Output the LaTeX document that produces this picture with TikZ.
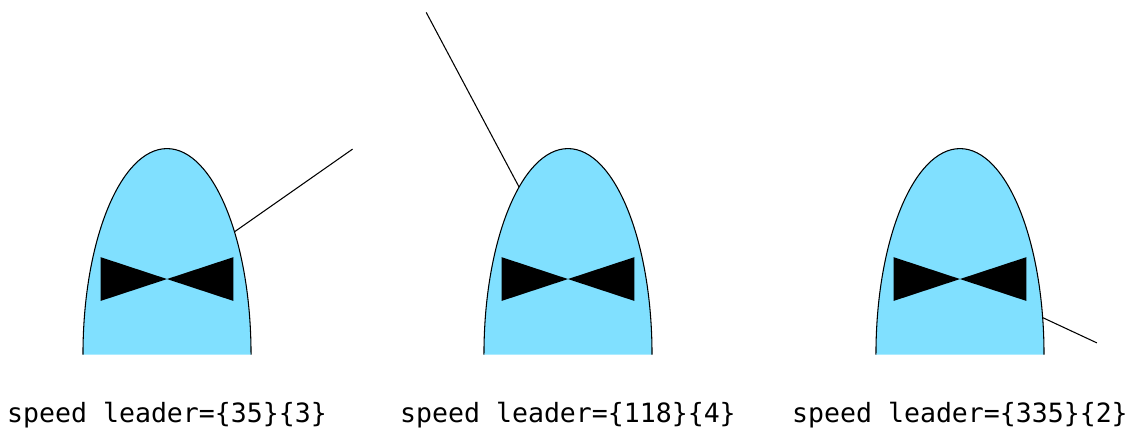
\documentclass[tikz,border=0pt]{standalone}
\usepackage{fontspec}
\setmonofont{DejaVu Sans Mono}
\usepackage{tikz}
\usetikzlibrary{positioning, calc}
\definecolor{bulletcolor}{HTML}{80E0FF}

\begin{document}
\begin{tikzpicture}[
    every node/.style={font=\fontsize{10pt}{12pt}\selectfont\ttfamily, inner sep=0pt},
    bullet/.style={fill=bulletcolor, draw=black, line width=0.4pt},
    bowtie/.style={fill=black},
    leader/.style={draw=black, line width=0.4pt},
    caption/.style={anchor=base}
]
    \useasboundingbox (0,0) rectangle (15.02,5.656);

    % Centres of the three bullets
    \coordinate (c1) at (2.212, 1.96);
    \coordinate (c2) at (7.523, 1.96);
    \coordinate (c3) at (12.715, 1.96);

    % Free ends of the speed leaders
    \path (c1) ++(35:3)  coordinate (e1);
    \path (c2) ++(118:4) coordinate (e2);
    \path (c3) ++(335:2) coordinate (e3);

    % Speed leaders (behind the bullets)
    \draw[leader] (c1) -- (e1);
    \draw[leader] (c2) -- (e2);
    \draw[leader] (c3) -- (e3);

    % Bullets
    \filldraw[bullet] ([xshift=-1.113cm, yshift=-1cm]c1)
          arc[start angle=180, end angle=0, x radius=1.113, y radius=2.728];
    \filldraw[bullet] ([xshift=-1.113cm, yshift=-1cm]c2)
          arc[start angle=180, end angle=0, x radius=1.113, y radius=2.728];
    \filldraw[bullet] ([xshift=-1.113cm, yshift=-1cm]c3)
          arc[start angle=180, end angle=0, x radius=1.113, y radius=2.728];

    % Bow ties
    \fill[bowtie] (c1) -- ++(-0.88,0.29) -- ++(0,-0.58) -- cycle
                  (c1) -- ++(0.88,0.29) -- ++(0,-0.58) -- cycle;
    \fill[bowtie] (c2) -- ++(-0.88,0.29) -- ++(0,-0.58) -- cycle
                  (c2) -- ++(0.88,0.29) -- ++(0,-0.58) -- cycle;
    \fill[bowtie] (c3) -- ++(-0.88,0.29) -- ++(0,-0.58) -- cycle
                  (c3) -- ++(0.88,0.29) -- ++(0,-0.58) -- cycle;

    % Captions
    \node[caption] (t1) at ($(c1 |- 0,0.066)$) {speed leader=\{35\}\{3\}};
    \node[caption] (t2) at ($(c2 |- 0,0.066)$) {speed leader=\{118\}\{4\}};
    \node[caption] (t3) at ($(c3 |- 0,0.066)$) {speed leader=\{335\}\{2\}};
\end{tikzpicture}
\end{document}
